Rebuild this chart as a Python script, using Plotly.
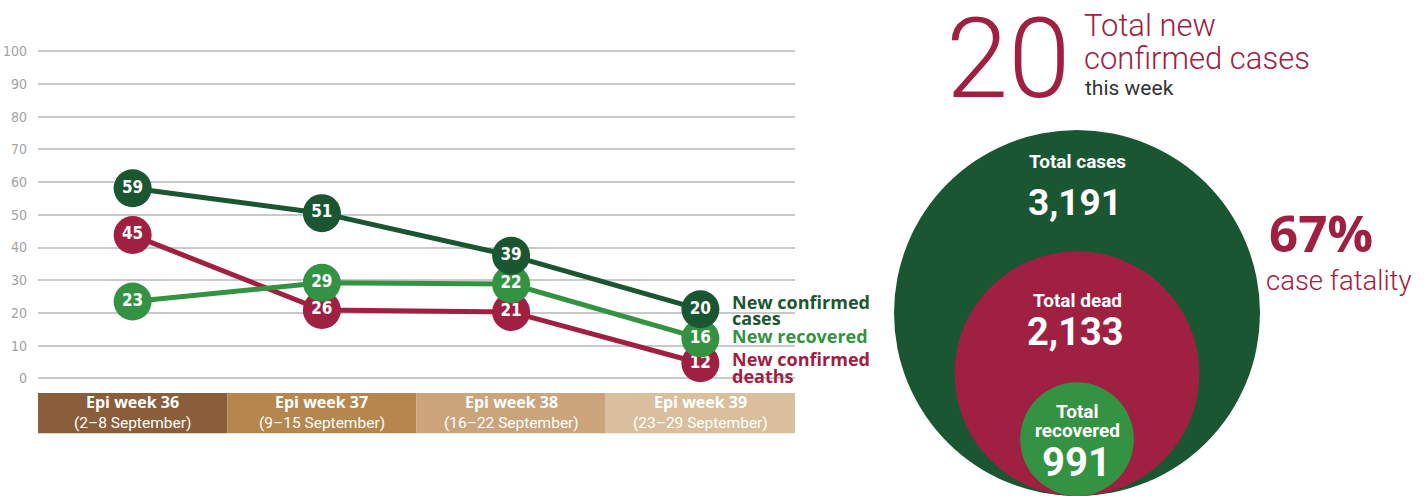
import plotly.graph_objects as go

# ---------------- data ----------------
weeks = ["Epi week 36", "Epi week 37", "Epi week 38", "Epi week 39"]
week_dates = ["(2–8 September)", "(9–15 September)", "(16–22 September)", "(23–29 September)"]

# plotted positions as drawn in the reference infographic
cases_pos = [58.1, 50.5, 37.5, 21.1]
recovered_pos = [23.5, 29.2, 28.8, 12.2]
deaths_pos = [43.8, 20.9, 20.3, 4.6]
# labels printed in the markers
cases_lbl = [59, 51, 39, 20]
recovered_lbl = [23, 29, 22, 16]
deaths_lbl = [45, 26, 21, 12]

series_names = ["New confirmed deaths", "New recovered", "New confirmed cases"]
legend_lines = [["New confirmed", "deaths"], ["New recovered"], ["New confirmed", "cases"]]

y_ticks = [0, 10, 20, 30, 40, 50, 60, 70, 80, 90, 100]

total_cases = 3191
total_dead = 2133
total_recovered = 991
new_cases_week = 20
case_fatality = "67%"

# ---------------- styles ----------------
DARK_GREEN = "#1B5632"
LIGHT_GREEN = "#339343"
CRIMSON = "#A02042"
BAND_COLORS = ["#8A5D3B", "#B5874F", "#CBA47B", "#D9BF9D"]
W, H = 1427, 496
COND = "Liberation Sans Narrow, DejaVu Sans Condensed, Roboto Condensed, Roboto"
PX_PER_UNIT = 3.27          # vertical pixels per y unit
Y0_PX = 378.3               # pixel row of y = 0
# pixel offsets (from last marker centre) of legend rows
legend_offsets = [[-3, 14], [-1], [-6, 10]]

fig = go.Figure()

series = [
    (deaths_pos, deaths_lbl, CRIMSON),
    (recovered_pos, recovered_lbl, LIGHT_GREEN),
    (cases_pos, cases_lbl, DARK_GREEN),
]
for name, (pos, lbl, col) in zip(series_names, series):
    fig.add_trace(go.Scatter(
        x=weeks, y=pos, name=name, mode="lines+markers+text",
        line=dict(color=col, width=5),
        marker=dict(color=col, size=38),
        text=[str(v) for v in lbl], textposition="middle center",
        textfont=dict(family=COND, size=17, color="white", weight="bold"),
        showlegend=False, hoverinfo="skip",
    ))

# series labels at the right end
for (pos, lbl, col), lines, offs in zip(series, legend_lines, legend_offsets):
    for line, off in zip(lines, offs):
        fig.add_annotation(
            x=weeks[-1], y=pos[-1], xref="x", yref="y", text="<b>%s</b>" % line,
            showarrow=False, xanchor="left", yanchor="middle", xshift=30,
            yshift=-off + 1,
            font=dict(family="Open Sans", size=18, color=col),
        )

# category bands under the axis
for i, (wk, dt) in enumerate(zip(weeks, week_dates)):
    fig.add_shape(type="rect", xref="x", yref="y", x0=i - 0.5, x1=i + 0.5,
                  y0=-16.8, y1=-4.5, fillcolor=BAND_COLORS[i], line_width=0, layer="below")
    fig.add_annotation(x=wk, y=-7.3, xref="x", yref="y", text="<b>%s</b>" % wk,
                       showarrow=False, font=dict(family="Open Sans", size=16, color="white"))
    fig.add_annotation(x=wk, y=-13.6, xref="x", yref="y", text=dt,
                       showarrow=False, font=dict(family="Roboto", size=15.5, color="white"))

# ---------------- right-hand infographic (paper coords from pixel positions) ----------------
def px(x):
    return x / W

def py(y):
    return 1 - y / H

R_MAX = 183.0
cx, bottom = 1077.0, 496.0
for val, col in [(total_cases, DARK_GREEN), (total_dead, CRIMSON), (total_recovered, LIGHT_GREEN)]:
    r = R_MAX * val / total_cases
    fig.add_shape(type="circle", xref="paper", yref="paper",
                  x0=px(cx - r), x1=px(cx + r), y0=py(bottom), y1=py(bottom - 2 * r),
                  fillcolor=col, line_width=0)

def txt(x, y, s, size, color, weight="normal", anchor="center", family="Roboto"):
    fig.add_annotation(x=px(x), y=py(y), xref="paper", yref="paper", text=s, showarrow=False,
                       xanchor=anchor, yanchor="middle",
                       font=dict(family=family, size=size, color=color, weight=weight))

txt(1077, 161, "Total cases", 19, "white", "bold")
txt(1075, 202, "{:,}".format(total_cases), 37, "white", "bold")
txt(1077, 300, "Total dead", 19, "white", "bold")
txt(1075, 332, "{:,}".format(total_dead), 38, "white", "bold")
txt(1077, 411, "Total", 19, "white", "bold")
txt(1077, 430, "recovered", 19, "white", "bold")
txt(1076, 462, "{:,}".format(total_recovered), 40, "white", "bold")

txt(1321, 232, case_fatality, 51, CRIMSON, "bold", family="Open Sans")
txt(1339, 280, "case fatality", 27.5, CRIMSON, 300)

txt(1008, 58, str(new_cases_week), 112, CRIMSON, 300)
txt(1082, 26, "Total new", 31, CRIMSON, 300, anchor="left")
txt(1082, 58, "confirmed cases", 31, CRIMSON, 300, anchor="left")
txt(1083, 88, "this week", 21, "#333333", "normal", anchor="left")

# ---------------- layout ----------------
y_lo = -(H - Y0_PX) / PX_PER_UNIT
y_hi = Y0_PX / PX_PER_UNIT
fig.update_layout(
    width=W, height=H,
    margin=dict(l=0, r=0, t=0, b=0),
    paper_bgcolor="white", plot_bgcolor="white",
    showlegend=False,
    xaxis=dict(domain=[38 / W, 795 / W], range=[-0.5, 3.5], type="category",
               showgrid=False, showticklabels=False, zeroline=False, showline=False,
               fixedrange=True),
    yaxis=dict(domain=[0, 1], range=[y_lo, y_hi], tickvals=y_ticks,
               showgrid=True, gridcolor="#c9c9c9", gridwidth=1.5, zeroline=False,
               showline=False, ticks="", ticklabelstandoff=10,
               tickfont=dict(family=COND, size=14, color="#a3a3a3")),
)

fig.write_html("out.html", config={"displayModeBar": False},
               post_script="document.body.style.margin='0px';")
